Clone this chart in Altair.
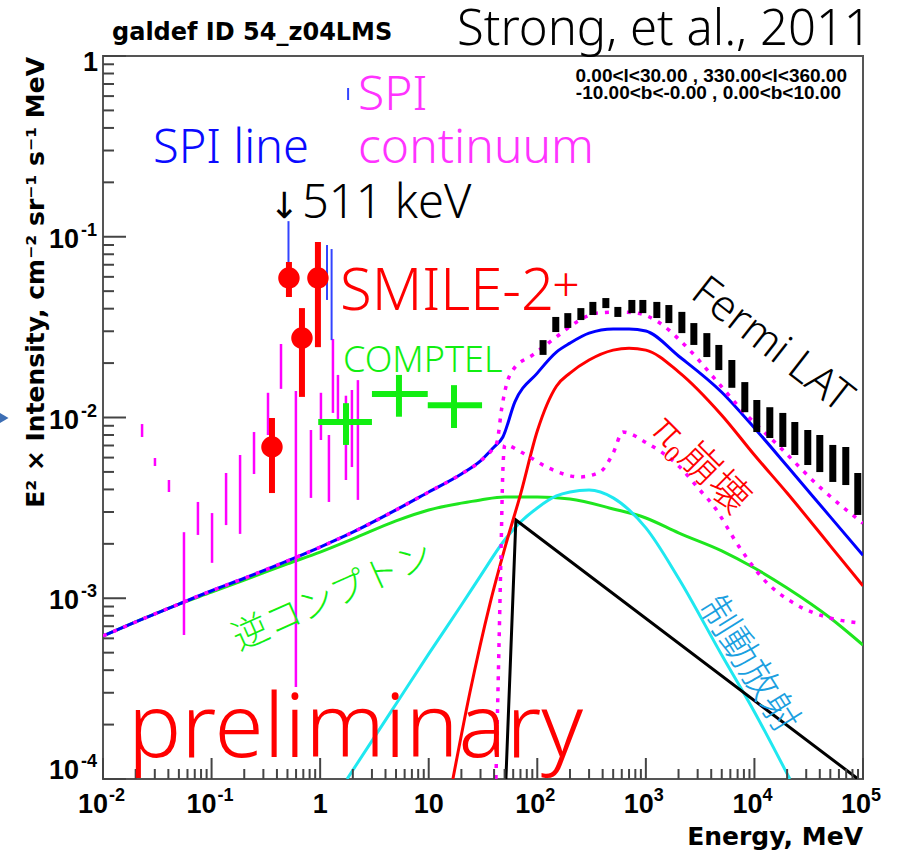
import altair as alt
import pandas as pd

W, H = 760, 723          # plot area in px
PAD_L, PAD_T = 103, 56   # offset of the plot area inside the page

# ---------------- model spectra (E in MeV, E^2 x intensity) ----------------
total_E = [0.01, 0.02, 0.05, 0.1, 0.2, 0.5, 1, 2, 5, 10, 20, 30, 40, 48.2, 62.2,
           100, 150, 200, 300, 500, 700, 1000, 2000, 5000, 1e4, 2e4, 5e4, 1e5]
total_I = [6.18e-4, 7.39e-4, 9.29e-4, 1.10e-3, 1.29e-3, 1.61e-3, 1.92e-3, 2.32e-3,
           3.08e-3, 3.87e-3, 4.87e-3, 5.75e-3, 6.87e-3, 7.80e-3, 1.22e-2, 1.76e-2,
           2.30e-2, 2.58e-2, 2.93e-2, 3.09e-2, 3.09e-2, 3.01e-2, 2.19e-2, 1.38e-2,
           8.75e-3, 5.39e-3, 2.82e-3, 1.73e-3]

pi0_E = [16.7, 23.9, 36.6, 50.3, 70.6, 100, 150, 200, 300, 500, 700, 1000, 2000,
         5000, 1e4, 2e4, 5e4, 1e5]
pi0_I = [1.0e-4, 2.99e-4, 9.29e-4, 1.90e-3, 3.82e-3, 8.42e-3, 1.49e-2, 1.76e-2,
         2.08e-2, 2.36e-2, 2.42e-2, 2.36e-2, 1.79e-2, 1.03e-2, 6.20e-3, 3.82e-3,
         1.95e-3, 1.17e-3]

ic_E = [0.01, 0.02, 0.05, 0.1, 0.2, 0.5, 1, 2, 5, 10, 20, 30, 50, 100, 200, 500,
        1000, 2000, 5000, 1e4, 2e4, 5e4, 1e5]
ic_I = [6.18e-4, 7.39e-4, 9.29e-4, 1.08e-3, 1.26e-3, 1.55e-3, 1.80e-3, 2.13e-3,
        2.68e-3, 3.08e-3, 3.36e-3, 3.50e-3, 3.63e-3, 3.63e-3, 3.54e-3, 3.12e-3,
        2.78e-3, 2.30e-3, 1.83e-3, 1.47e-3, 1.14e-3, 7.78e-4, 5.51e-4]

brems_E = [1.77, 5, 10, 20, 30, 50, 70, 100, 150, 200, 300, 500, 700, 1000, 2000,
           5000, 1e4, 2.12e4]
brems_I = [1.0e-4, 2.60e-4, 4.92e-4, 9.18e-4, 1.33e-3, 2.10e-3, 2.64e-3, 3.16e-3,
           3.68e-3, 3.87e-3, 3.97e-3, 3.59e-3, 3.08e-3, 2.45e-3, 1.29e-3, 4.85e-4,
           2.35e-4, 1.0e-4]

src_E = [51.4, 63.5, 9.0e4]
src_I = [1.0e-4, 2.71e-3, 1.0e-4]

egb_E = [41.6, 44.3, 46.2, 48.2, 50.3, 73.7, 122, 246, 377, 500, 614, 1020, 2056,
         3140, 4140, 7340, 1.19e4, 2.46e4, 4.94e4, 9.33e4]
egb_I = [1.0e-4, 5.17e-4, 1.63e-3, 5.12e-3, 7.05e-3, 6.36e-3, 5.32e-3, 4.69e-3,
         4.99e-3, 6.36e-3, 8.31e-3, 7.22e-3, 5.32e-3, 3.97e-3, 3.28e-3, 1.90e-3,
         1.29e-3, 9.18e-4, 7.78e-4, 7.30e-4]

sum_E = [0.01, 0.02, 0.05, 0.1, 0.2, 0.5, 1, 2, 5, 10, 20, 30, 40, 42.5, 47.2, 52.5,
         59.6, 91, 150, 231, 354, 541, 826, 1345, 2056, 4800, 7340, 1.71e4, 4.0e4, 1e5]
sum_I = [6.18e-4, 7.39e-4, 9.29e-4, 1.10e-3, 1.29e-3, 1.61e-3, 1.92e-3, 2.32e-3,
         3.08e-3, 3.87e-3, 4.87e-3, 5.75e-3, 6.87e-3, 7.30e-3, 1.14e-2, 1.55e-2,
         1.83e-2, 2.22e-2, 2.79e-2, 3.38e-2, 3.78e-2, 3.83e-2, 3.78e-2, 3.33e-2,
         2.68e-2, 1.52e-2, 1.13e-2, 6.87e-3, 4.12e-3, 2.60e-3]

# ---------------- measurements ----------------
fermi_E = [113, 148, 191, 252, 325, 428, 552, 743, 938, 1262, 1629, 2146, 2767, 3645,
           4701, 6194, 8155, 1.052e4, 1.386e4, 1.826e4, 2.355e4, 3.10e4, 4.0e4,
           5.27e4, 6.94e4, 8.95e4]
fermi_hi = [2.68e-2, 3.60e-2, 3.78e-2, 4.03e-2, 4.36e-2, 4.58e-2, 4.09e-2, 4.47e-2,
            4.47e-2, 4.36e-2, 4.19e-2, 3.84e-2, 3.33e-2, 2.93e-2, 2.52e-2, 2.08e-2,
            1.57e-2, 1.25e-2, 1.14e-2, 1.06e-2, 9.44e-3, 8.53e-3, 8.00e-3, 7.05e-3,
            6.87e-3, 4.93e-3]
fermi_lo = [2.22e-2, 2.97e-2, 3.13e-2, 3.46e-2, 3.69e-2, 4.03e-2, 3.60e-2, 3.78e-2,
            3.78e-2, 3.55e-2, 3.33e-2, 2.93e-2, 2.52e-2, 2.16e-2, 1.83e-2, 1.46e-2,
            1.07e-2, 8.31e-3, 7.70e-3, 6.87e-3, 6.20e-3, 5.46e-3, 4.99e-3, 4.40e-3,
            4.23e-3, 2.89e-3]

smile_E = [0.360, 0.516, 0.680, 0.954]
smile_I = [6.87e-3, 5.91e-2, 2.75e-2, 5.91e-2]
smile_hi = [9.94e-3, 7.25e-2, 4.03e-2, 9.35e-2]
smile_lo = [3.82e-3, 4.64e-2, 1.30e-2, 2.45e-2]

spil_E = [0.511, 1.157, 1.275, 1.809]
spil_hi = [0.122, 9.00e-2, 8.55e-2, 0.665]
spil_lo = [5.41e-2, 4.47e-2, 2.68e-2, 0.571]

spic_E = [0.0229, 0.0301, 0.0405, 0.0557, 0.0749, 0.101, 0.136, 0.183, 0.246, 0.331,
          0.436, 0.598, 0.823, 1.017, 1.205, 1.312, 1.459, 1.728, 1.962, 2.228]
spic_hi = [9.20e-3, 5.97e-3, 4.51e-3, 2.32e-3, 3.41e-3, 2.96e-3, 4.93e-3, 6.20e-3,
           8.31e-3, 1.37e-2, 2.55e-2, 1.40e-2, 8.53e-3, 1.37e-2, 8.00e-3, 2.72e-2,
           1.72e-2, 1.32e-2, 1.42e-2, 1.61e-2]
spic_lo = [7.80e-3, 5.39e-3, 3.87e-3, 6.26e-4, 2.24e-3, 1.57e-3, 2.54e-3, 2.27e-3,
           4.87e-3, 8.00e-3, 1.44e-2, 3.23e-4, 3.59e-3, 7.51e-3, 3.41e-3, 1.06e-2,
           9.81e-3, 4.51e-3, 5.32e-3, 3.50e-3]

comp_Emin = [0.96, 3.0, 9.8]
comp_Emax = [3.0, 9.8, 31]
comp_E = [1.73, 5.32, 17.1]
comp_I = [9.44e-3, 1.35e-2, 1.17e-2]
comp_hi = [1.20e-2, 1.72e-2, 1.51e-2]
comp_lo = [7.05e-3, 1.01e-2, 8.75e-3]

# ---------------- axis decorations ----------------
x_decades = [1e-2, 1e-1, 1, 10, 1e2, 1e3, 1e4, 1e5]
y_decades = [1e-4, 1e-3, 1e-2, 1e-1, 1]
x_minor = [m * 10.0 ** k for k in range(-2, 5) for m in range(2, 10)]
y_minor = [m * 10.0 ** k for k in range(-4, 0) for m in range(2, 10)]

LATIN = "Noto Sans"
LIGHT = 300
CJK = "Noto Sans CJK JP"
BOLD = "Liberation Sans"
WIDEBOLD = "DejaVu Sans"

xs = alt.Scale(type="log", domain=[1e-2, 1e5], nice=False)
ys = alt.Scale(type="log", domain=[1e-4, 1], nice=False)


def X(f):
    return alt.X(f"{f}:Q", scale=xs, axis=None)


def Y(f):
    return alt.Y(f"{f}:Q", scale=ys, axis=None)


def curve(E, I, color, width=3.0, dash=None, interp="monotone"):
    kw = dict(color=color, strokeWidth=width, interpolate=interp, clip=True)
    if dash:
        kw["strokeDash"] = dash
    return alt.Chart(pd.DataFrame({"E": E, "I": I})).mark_line(**kw).encode(
        x=X("E"), y=Y("I"))


def vbars(E, lo, hi, color, width):
    df = pd.DataFrame({"E": E, "lo": lo, "hi": hi})
    return alt.Chart(df).mark_rule(color=color, strokeWidth=width, clip=True).encode(
        x=X("E"), y=Y("lo"), y2=alt.Y2("hi:Q"))


def note(text, px, py, size, color, font=LATIN, weight=LIGHT, align="left",
         baseline="alphabetic", angle=0):
    return alt.Chart(pd.DataFrame({"t": [text]})).mark_text(
        font=font, fontSize=size, fontWeight=weight, color=color, align=align,
        baseline=baseline, angle=angle).encode(
        x=alt.value(px - PAD_L), y=alt.value(py - PAD_T), text="t:N")


layers = []

# model curves
layers.append(curve(ic_E, ic_I, "#1ee61e"))
layers.append(curve(brems_E, brems_I, "#1fe8f0"))
layers.append(curve(src_E, src_I, "#000000", interp="linear"))
layers.append(curve(pi0_E, pi0_I, "#ff0000"))
layers.append(curve(total_E, total_I, "#0000ff"))
layers.append(curve(egb_E, egb_I, "#ff00ff", width=3.5, dash=[4, 7]))
layers.append(curve(sum_E, sum_I, "#ff00ff", width=3.5, dash=[4, 7]))

# SPI continuum and line points
layers.append(vbars(spic_E, spic_lo, spic_hi, "#ff00ff", 2.5))
layers.append(vbars(spil_E, spil_lo, spil_hi, "#3344ff", 2))

# COMPTEL crosses
comp_df = pd.DataFrame({"E": comp_E, "Emin": comp_Emin, "Emax": comp_Emax,
                        "I": comp_I, "lo": comp_lo, "hi": comp_hi})
layers.append(alt.Chart(comp_df).mark_rule(color="#11ee11", strokeWidth=6).encode(
    x=X("Emin"), x2=alt.X2("Emax:Q"), y=Y("I")))
layers.append(alt.Chart(comp_df).mark_rule(color="#11ee11", strokeWidth=6).encode(
    x=X("E"), y=Y("lo"), y2=alt.Y2("hi:Q")))

# Fermi LAT band
layers.append(vbars(fermi_E, fermi_lo, fermi_hi, "#000000", 7))

# SMILE-2+ points
smile_df = pd.DataFrame({"E": smile_E, "I": smile_I, "lo": smile_lo, "hi": smile_hi})
layers.append(alt.Chart(smile_df).mark_rule(color="#ff0000", strokeWidth=6).encode(
    x=X("E"), y=Y("lo"), y2=alt.Y2("hi:Q")))
layers.append(alt.Chart(smile_df).mark_circle(color="#ff0000", opacity=1, size=460).encode(
    x=X("E"), y=Y("I")))

# ticks drawn inward from the left and bottom frame
TICK = "#444444"
layers.append(alt.Chart(pd.DataFrame({"v": y_decades})).mark_rule(color=TICK, strokeWidth=2).encode(
    y=Y("v"), x=alt.value(0), x2=alt.value(23)))
layers.append(alt.Chart(pd.DataFrame({"v": y_minor})).mark_rule(color=TICK, strokeWidth=2).encode(
    y=Y("v"), x=alt.value(0), x2=alt.value(11)))
layers.append(alt.Chart(pd.DataFrame({"v": x_decades})).mark_rule(color=TICK, strokeWidth=2).encode(
    x=X("v"), y=alt.value(H), y2=alt.value(H - 21)))
layers.append(alt.Chart(pd.DataFrame({"v": x_minor})).mark_rule(color=TICK, strokeWidth=2).encode(
    x=X("v"), y=alt.value(H), y2=alt.value(H - 10)))


# tick labels (base and raised exponent)
def xlab(vals, texts, dx, size, align, dy=0):
    df = pd.DataFrame({"v": vals, "t": texts})
    return alt.Chart(df).mark_text(font=BOLD, fontWeight="bold", fontSize=size, align=align,
                                   baseline="middle", dx=dx, dy=dy, color="#000").encode(
        x=X("v"), y=alt.value(H + 26), text="t:N")


def ylab(vals, texts, px, size, dy):
    df = pd.DataFrame({"v": vals, "t": texts})
    return alt.Chart(df).mark_text(font=BOLD, fontWeight="bold", fontSize=size, align="right",
                                   baseline="middle", dy=dy, color="#000").encode(
        y=Y("v"), x=alt.value(px), text="t:N")


layers.append(xlab([1e-2, 1e-1], ["10", "10"], 5, 27, "right"))
layers.append(xlab([1e-2, 1e-1], ["-2", "-1"], 6, 18, "left", dy=-9))
layers.append(xlab([1e2, 1e3, 1e4, 1e5], ["10"] * 4, 8, 27, "right"))
layers.append(xlab([1e2, 1e3, 1e4, 1e5], ["2", "3", "4", "5"], 8, 18, "left", dy=-9))
layers.append(xlab([1, 10], ["1", "10"], 0, 27, "center"))

layers.append(ylab([1], ["1"], -5, 27, 7))
layers.append(ylab([1e-1, 1e-2, 1e-3], ["10"] * 3, -24, 27, 3))
layers.append(ylab([1e-1, 1e-2, 1e-3], ["-1", "-2", "-3"], -6, 18, -6))
layers.append(ylab([1e-4], ["10"], -24, 27, -8))
layers.append(ylab([1e-4], ["-4"], -6, 18, -17))

# axis titles
layers.append(note("Energy, MeV", 863, 845, 25, "#000", font=WIDEBOLD, weight="bold", align="right"))
layers.append(note("E² × Intensity, cm⁻² sr⁻¹ s⁻¹ MeV", 36, 57, 25, "#000", font=WIDEBOLD,
                   weight="bold", align="right", baseline="middle", angle=270))

# header texts
layers.append(note("galdef ID 54_z04LMS", 112, 40, 24, "#000", font=WIDEBOLD, weight="bold"))
layers.append(note("Strong, et al., 2011", 457, 45, 49, "#000"))
layers.append(note("0.00<l<30.00 , 330.00<l<360.00", 847, 82, 19, "#000", font=BOLD,
                   weight="bold", align="right"))
layers.append(note("-10.00<b<-0.00 ,  0.00<b<10.00", 841, 99, 19, "#000", font=BOLD,
                   weight="bold", align="right"))

# data set and component annotations
layers.append(note("SPI", 358, 110, 48, "#ff33ff"))
layers.append(note("continuum", 358, 163, 48, "#ff33ff"))
layers.append(note("SPI line", 153, 163, 47, "#0a0aff"))
layers.append(note("↓", 284, 218, 36, "#000", font="DejaVu Sans", weight="normal", align="center"))
layers.append(note("511 keV", 302, 218, 47, "#000"))
layers.append(note("SMILE-2", 340, 310, 58, "#ff0000"))
layers.append(note("+", 566, 288, 48, "#ff0000", align="center", baseline="middle"))
layers.append(note("COMPTEL", 343, 372, 36, "#11ee11"))
layers.append(note("Fermi LAT", 772, 345, 43, "#000", align="center", baseline="middle", angle=38))
layers.append(note("π₀崩壊", 700, 465, 40, "#ff0000", font=CJK, align="center",
                   baseline="middle", angle=45))
layers.append(note("逆コンプトン", 333, 597, 36, "#11ee11", font=CJK, align="center",
                   baseline="middle", angle=336))
layers.append(note("制動放射", 748, 665, 38, "#1a9fe0", font=CJK, align="center",
                   baseline="middle", angle=58))
layers.append(note("preliminary", 128, 757, 89, "#ff0000"))

# slide bullet at the far left edge
layers.append(alt.Chart(pd.DataFrame({"t": ["b"]})).mark_point(
    shape="triangle-right", filled=True, color="#3d6eb4", size=110, opacity=1).encode(
    x=alt.value(4 - PAD_L), y=alt.value(418 - PAD_T)))

chart = alt.layer(*layers).properties(
    width=W, height=H,
    autosize=alt.AutoSizeParams(type="none"),
    padding={"left": PAD_L, "top": PAD_T, "right": 897 - PAD_L - W, "bottom": 850 - PAD_T - H},
    background="white",
).configure_view(stroke="#555555", strokeWidth=2)

chart.save("out.html", embed_options={"renderer": "svg", "actions": False})
